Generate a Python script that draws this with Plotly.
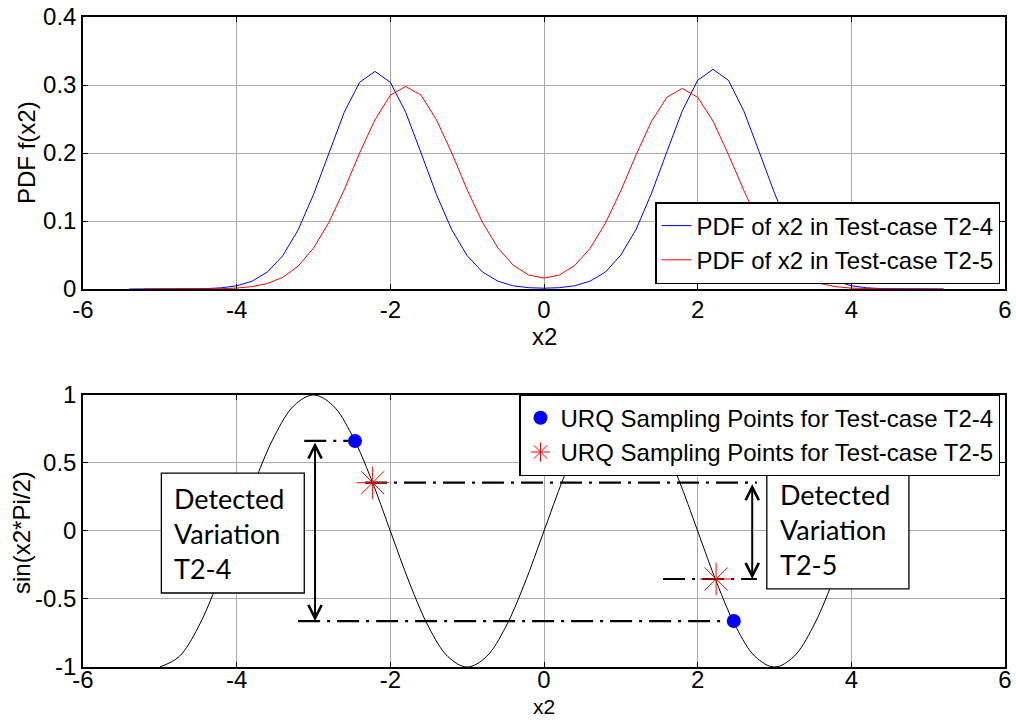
import plotly.graph_objects as go

# ---------------- data ----------------
# PDF of x2, test-case T2-4 (blue)
pdf_t24_x = [-5.4, -5.2, -5.0, -4.8, -4.6, -4.4, -4.2, -4.0, -3.8, -3.6, -3.4, -3.2, -3.0,
             -2.8, -2.6, -2.4, -2.2, -2.0, -1.8, -1.6, -1.4, -1.2, -1.0, -0.8, -0.6, -0.4,
             -0.2, 0.0, 0.2, 0.4, 0.6, 0.8, 1.0, 1.2, 1.4, 1.6, 1.8, 2.0, 2.2, 2.4, 2.6,
             2.8, 3.0, 3.2, 3.4, 3.6, 3.8, 4.0, 4.2, 4.4, 4.6, 4.8, 5.0, 5.2]
pdf_t24_y = [0.0, 0.0, 0.0, 0.0001, 0.0002, 0.0006, 0.0018, 0.0047, 0.0115, 0.025, 0.049,
             0.087, 0.139, 0.200, 0.260, 0.304, 0.320, 0.304, 0.260, 0.200, 0.139, 0.087,
             0.049, 0.025, 0.0115, 0.0047, 0.002, 0.0012, 0.002, 0.0048, 0.0116, 0.025,
             0.050, 0.088, 0.141, 0.202, 0.262, 0.307, 0.323, 0.307, 0.262, 0.202, 0.141,
             0.088, 0.050, 0.025, 0.0116, 0.0048, 0.0018, 0.0006, 0.0002, 0.0001, 0.0, 0.0]

# PDF of x2, test-case T2-5 (red)
pdf_t25_x = [-5.2, -5.0, -4.8, -4.6, -4.4, -4.2, -4.0, -3.8, -3.6, -3.4, -3.2, -3.0, -2.8,
             -2.6, -2.4, -2.2, -2.0, -1.8, -1.6, -1.4, -1.2, -1.0, -0.8, -0.6, -0.4, -0.2,
             0.0, 0.2, 0.4, 0.6, 0.8, 1.0, 1.2, 1.4, 1.6, 1.8, 2.0, 2.2, 2.4, 2.6, 2.8,
             3.0, 3.2, 3.4, 3.6, 3.8, 4.0, 4.2, 4.4, 4.6, 4.8, 5.0, 5.2]
pdf_t25_y = [0.0, 0.0, 0.0, 0.0001, 0.0002, 0.0005, 0.0014, 0.0035, 0.0081, 0.0172, 0.0336,
             0.060, 0.098, 0.146, 0.200, 0.249, 0.285, 0.298, 0.285, 0.249, 0.200, 0.146,
             0.098, 0.0605, 0.035, 0.0206, 0.016, 0.0206, 0.0346, 0.0598, 0.097, 0.1446,
             0.1977, 0.2469, 0.282, 0.295, 0.282, 0.247, 0.198, 0.145, 0.097, 0.059, 0.0332,
             0.0171, 0.008, 0.0034, 0.0013, 0.0005, 0.0002, 0.0001, 0.0, 0.0, 0.0]

# response function sin(x2*pi/2), read at 0.25 steps
resp_x = [-5.0, -4.75, -4.5, -4.25, -4.0, -3.75, -3.5, -3.25, -3.0, -2.75, -2.5, -2.25,
          -2.0, -1.75, -1.5, -1.25, -1.0, -0.75, -0.5, -0.25, 0.0, 0.25, 0.5, 0.75, 1.0,
          1.25, 1.5, 1.75, 2.0, 2.25, 2.5, 2.75, 3.0, 3.25, 3.5, 3.75, 4.0, 4.25, 4.5,
          4.75, 5.0]
resp_y = [-1.0, -0.924, -0.707, -0.383, 0.0, 0.383, 0.707, 0.924, 1.0, 0.924, 0.707, 0.383,
          0.0, -0.383, -0.707, -0.924, -1.0, -0.924, -0.707, -0.383, 0.0, 0.383, 0.707,
          0.924, 1.0, 0.924, 0.707, 0.383, 0.0, -0.383, -0.707, -0.924, -1.0, -0.924,
          -0.707, -0.383, 0.0, 0.383, 0.707, 0.924, 1.0]

# URQ sampling points
urq_t24_x = [-2.46, 2.47]
urq_t24_y = [0.662, -0.662]
urq_t25_x = [-2.23, 2.24]
urq_t25_y = [0.355, -0.353]

# dash-dot guide lines (level, from, to)
guide_y = [0.662, -0.662, 0.355, -0.353]
guide_x_from = [-3.12, -3.20, -2.33, 1.55]
guide_x_to = [-2.46, 2.47, 2.77, 2.77]

# detected-variation arrows
arrow_x = [-2.98, 2.71]
arrow_top = [0.662, 0.355]
arrow_bottom = [-0.662, -0.353]
variation_labels = ["Detected<br>Variation<br>T2-4", "Detected<br>Variation<br>T2-5"]

x_ticks = [-6, -4, -2, 0, 2, 4, 6]
x_tick_text = ["-6", "-4", "-2", "0", "2", "4", "6"]
y1_ticks = [0, 0.1, 0.2, 0.3, 0.4]
y1_tick_text = ["0", "0.1", "0.2", "0.3", "0.4"]
y2_ticks = [-1, -0.5, 0, 0.5, 1]
y2_tick_text = ["-1", "-0.5", "0", "0.5", "1"]

# ---------------- figure ----------------
FONT = "Liberation Sans, Arial, sans-serif"
fig = go.Figure()

fig.add_trace(go.Scatter(x=pdf_t24_x, y=pdf_t24_y, mode="lines",
                         line=dict(color="#0000ff", width=1),
                         name="PDF of x2 in Test-case T2-4", xaxis="x", yaxis="y", legend="legend"))
fig.add_trace(go.Scatter(x=pdf_t25_x, y=pdf_t25_y, mode="lines",
                         line=dict(color="#ff0000", width=1),
                         name="PDF of x2 in Test-case T2-5", xaxis="x", yaxis="y", legend="legend"))

fig.add_trace(go.Scatter(x=resp_x, y=resp_y, mode="lines", line=dict(color="black", width=1, shape="spline"),
                         showlegend=False, xaxis="x2", yaxis="y2"))

for yv, xa, xb in zip(guide_y, guide_x_from, guide_x_to):
    fig.add_trace(go.Scatter(x=[xa, xb], y=[yv, yv], mode="lines",
                             line=dict(color="black", width=2.2, dash="22px,7px,3px,7px"),
                             showlegend=False, xaxis="x2", yaxis="y2"))

fig.add_trace(go.Scatter(x=urq_t24_x, y=urq_t24_y, mode="markers",
                         marker=dict(symbol="circle", size=14, color="#0000ff"),
                         name="URQ Sampling Points for Test-case T2-4",
                         xaxis="x2", yaxis="y2", legend="legend2"))
fig.add_trace(go.Scatter(x=urq_t25_x, y=urq_t25_y, mode="markers",
                         marker=dict(symbol="asterisk-open", size=27,
                                     line=dict(color="#ff0000", width=1), color="#ff0000"),
                         name="URQ Sampling Points for Test-case T2-5",
                         xaxis="x2", yaxis="y2", legend="legend2"))

# arrows
for ax_, yt, yb in zip(arrow_x, arrow_top, arrow_bottom):
    fig.add_annotation(x=ax_, y=yb, ax=ax_, ay=yt, xref="x2", yref="y2", axref="x2", ayref="y2",
                       text="", showarrow=True, arrowhead=5, startarrowhead=5, arrowside="end+start",
                       arrowsize=1.3, arrowwidth=2, arrowcolor="black", standoff=0, startstandoff=0)

# text boxes
fig.add_shape(type="rect", xref="x2", yref="y2", x0=-4.98, x1=-3.12, y0=-0.456, y1=0.426,
              line=dict(color="black", width=1.3), fillcolor="white", layer="above")
fig.add_shape(type="rect", xref="x2", yref="y2", x0=2.90, x1=4.75, y0=-0.426, y1=0.456,
              line=dict(color="black", width=1.3), fillcolor="white", layer="above")
fig.add_annotation(x=-4.84, y=-0.02, xref="x2", yref="y2", text=variation_labels[0], showarrow=False,
                   xanchor="left", yanchor="middle", align="left",
                   font=dict(family="Lato, sans-serif", size=27, color="black"))
fig.add_annotation(x=3.05, y=0.01, xref="x2", yref="y2", text=variation_labels[1], showarrow=False,
                   xanchor="left", yanchor="middle", align="left",
                   font=dict(family="Lato, sans-serif", size=27, color="black"))

# axis titles (placed in paper coordinates)
title_font = dict(family=FONT, size=24, color="black")
fig.add_annotation(x=0.5, y=0.5092, xref="paper", yref="paper", text="x2", showarrow=False,
                   xanchor="center", yanchor="middle", font=title_font)
fig.add_annotation(x=0.5, y=-0.0800, xref="paper", yref="paper", text="x2", showarrow=False,
                   xanchor="center", yanchor="bottom", borderpad=0,
                   font=dict(family=FONT, size=21, color="black"))
fig.add_annotation(x=-0.0607, y=0.7908, xref="paper", yref="paper", text="PDF f(x2)", showarrow=False,
                   textangle=-90, xanchor="center", yanchor="middle", font=title_font)
fig.add_annotation(x=-0.0662, y=0.2077, xref="paper", yref="paper", text="sin(x2*Pi/2)", showarrow=False,
                   textangle=-90, xanchor="center", yanchor="middle", font=title_font)

axis_common = dict(showline=True, linecolor="black", linewidth=1.5, mirror="ticks",
                   ticks="inside", ticklen=5, tickcolor="black", tickwidth=1,
                   showgrid=True, gridcolor="#aaaaaa", gridwidth=1, zeroline=False,
                   automargin=False,
                   tickfont=dict(family=FONT, size=24, color="black"))

fig.update_layout(
    width=1016, height=720,
    margin=dict(l=83, r=11, t=17, b=53, autoexpand=False),
    paper_bgcolor="white", plot_bgcolor="white",
    font=dict(family=FONT, size=24, color="black"),
    xaxis=dict(domain=[0, 1], anchor="y", range=[-6, 6], tickvals=x_ticks, ticktext=x_tick_text,
               ticklabelstandoff=-2, **axis_common),
    yaxis=dict(domain=[0.5815, 1], anchor="x", range=[0, 0.4], tickvals=y1_ticks, ticktext=y1_tick_text,
               **axis_common),
    xaxis2=dict(domain=[0, 1], anchor="y2", range=[-6, 6], tickvals=x_ticks, ticktext=x_tick_text,
                ticklabelstandoff=-10, **axis_common),
    yaxis2=dict(domain=[0, 0.4185], anchor="x2", range=[-1, 1], tickvals=y2_ticks, ticktext=y2_tick_text,
                **axis_common),
    legend=dict(x=0.9946, y=0.5892, xanchor="right", yanchor="bottom",
                bgcolor="white", bordercolor="black", borderwidth=1.5,
                font=dict(family=FONT, size=24, color="black")),
    legend2=dict(x=0.9946, y=0.4197, xanchor="right", yanchor="top",
                 bgcolor="white", bordercolor="black", borderwidth=1.5,
                 font=dict(family=FONT, size=24, color="black")),
    showlegend=True,
)

fig.write_html("out.html")
